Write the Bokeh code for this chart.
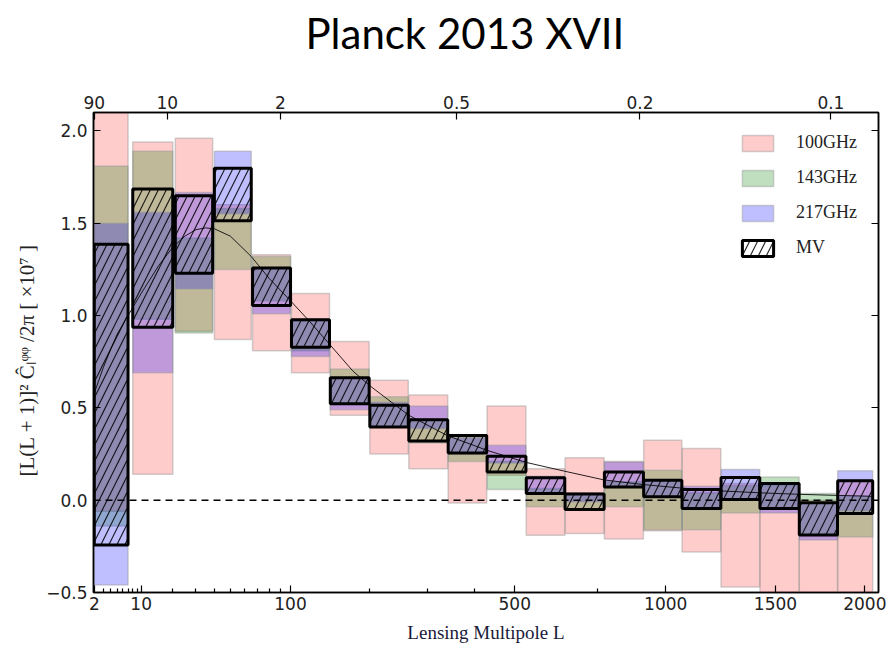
import numpy as np
from bokeh.plotting import figure
from bokeh.models import (LinearAxis, FixedTicker, CustomJSTickFormatter, Span,
                          Legend, LegendItem, Range1d)
from bokeh.embed import file_html
from bokeh.resources import INLINE

# Lensing multipole bins (inclusive bounds)
L_min = [2, 8, 21, 40, 66, 101, 145, 200, 265, 342, 430, 531, 644, 772, 914,
         1067, 1237, 1422, 1625, 1839]
L_max = [7, 20, 39, 65, 100, 144, 199, 264, 341, 429, 530, 643, 771, 913, 1066,
         1236, 1421, 1624, 1838, 2048]

# Band-power error boxes, [L(L+1)]^2 C_L^{phiphi}/2pi in units of 1e-7
ghz100_lo = [-0.06, 0.14, 0.915, 0.87, 0.81, 0.69, 0.46, 0.25, 0.17, -0.015,
             0.135, -0.19, -0.18, -0.21, -0.165, -0.28, -0.47, -0.6, -0.6, -0.6]
ghz100_hi = [2.3, 1.94, 1.96, 1.60, 1.33, 1.12, 0.86, 0.65, 0.57, 0.355,
             0.51, 0.17, 0.23, 0.21, 0.325, 0.28, 0.09, 0.08, 0.0, 0.11]

ghz143_lo = [-0.14, 0.98, 0.905, 1.25, 1.08, 0.81, 0.52, 0.40, 0.31, 0.21,
             0.058, -0.036, -0.05, -0.036, -0.16, -0.16, -0.07, -0.045, -0.19, -0.20]
ghz143_hi = [1.81, 1.89, 1.42, 1.58, 1.32, 0.97, 0.71, 0.56, 0.44, 0.35,
             0.21, 0.063, 0.035, 0.10, 0.162, 0.04, 0.08, 0.126, 0.036, 0.02]

ghz217_lo = [-0.46, 0.69, 1.144, 1.55, 1.01, 0.778, 0.49, 0.40, 0.387, 0.25,
             0.20, 0.036, -0.01, 0.072, 0.02, -0.05, 0.0, -0.07, -0.216, -0.06]
ghz217_hi = [1.50, 1.56, 1.667, 1.89, 1.26, 0.98, 0.66, 0.53, 0.51, 0.34,
             0.297, 0.13, 0.04, 0.207, 0.108, 0.076, 0.166, 0.09, -0.01, 0.159]

mv_lo = [-0.243, 0.937, 1.229, 1.514, 1.054, 0.829, 0.523, 0.396, 0.321, 0.256,
         0.153, 0.036, -0.05, 0.072, 0.018, -0.045, 0.004, -0.045, -0.189, -0.072]
mv_hi = [1.387, 1.685, 1.649, 1.798, 1.258, 0.977, 0.663, 0.514, 0.436, 0.351,
         0.238, 0.121, 0.034, 0.153, 0.108, 0.058, 0.123, 0.09, -0.014, 0.105]

# Fiducial lensing potential spectrum
theory_L = [2, 3, 4, 5, 7, 10, 15, 20, 25, 30, 35, 40, 50, 65, 80, 100, 120,
            145, 175, 200, 235, 265, 340, 430, 530, 640, 770, 910, 1070, 1240,
            1420, 1620, 1840, 2048]
theory_C = [0.58, 0.72, 0.82, 0.90, 1.00, 1.12, 1.27, 1.37, 1.43, 1.465, 1.475,
            1.47, 1.43, 1.32, 1.20, 1.08, 0.97, 0.84, 0.70, 0.62, 0.53, 0.46,
            0.35, 0.27, 0.205, 0.158, 0.11, 0.085, 0.065, 0.05, 0.04, 0.032,
            0.026, 0.021]

# Axis ticks
bottom_ticks = [2, 10, 100, 500, 1000, 1500, 2000]
bottom_labels = ["2", "10", "100", "500", "1000", "1500", "2000"]
bottom_minor = [3, 4, 5, 6, 7, 8, 9, 20, 30, 40, 50, 60, 70, 80, 90, 200, 300, 400, 750]
top_ticks = [2, 18, 90, 360, 900, 1800]          # L = 180 deg / theta
top_labels = ["90", "10", "2", "0.5", "0.2", "0.1"]
y_ticks = [-0.5, 0.0, 0.5, 1.0, 1.5, 2.0]

# The multipole axis is stretched as L^0.4
POWER = 0.4


def lx(L):
    return (np.asarray(L, dtype=float) ** POWER).tolist()


# The trailing line break leaves a gap between the title and the top axis
p = figure(width=894, height=662, output_backend="svg", toolbar_location=None,
           x_range=Range1d(2 ** POWER - 0.02, 2084 ** POWER),
           y_range=Range1d(-0.5, 2.1),
           x_axis_type=None, y_axis_type=None,
           min_border_left=93, min_border_right=16,
           min_border_top=112, min_border_bottom=70,
           title="Planck 2013 XVII\n")
p.grid.visible = False
p.background_fill_color = "white"
p.border_fill_color = "white"
p.outline_line_color = "black"
p.outline_line_width = 1.5

p.title.align = "left"
p.title.offset = 212
p.title.text_font = "Lato"
p.title.text_font_size = "42px"
p.title.text_font_style = "normal"
p.title.text_color = "black"
p.title.text_line_height = 0.7
p.title.standoff = 0

tick_font = "DejaVu Sans"
tick_size = "17px"


def style_axis(ax):
    ax.axis_line_color = "black"
    ax.axis_line_width = 1.5
    ax.major_tick_in = 7
    ax.major_tick_out = 0
    ax.minor_tick_in = 4
    ax.minor_tick_out = 0
    ax.major_tick_line_width = 1.2
    ax.minor_tick_line_width = 1.2
    ax.major_label_text_font = tick_font
    ax.major_label_text_font_size = tick_size
    ax.major_label_text_color = "#222222"


# Bottom multipole axis
bottom = LinearAxis(ticker=FixedTicker(ticks=lx(bottom_ticks), minor_ticks=lx(bottom_minor)),
                    formatter=CustomJSTickFormatter(args=dict(labs=bottom_labels),
                                                    code="return labs[index];"))
style_axis(bottom)
bottom.major_label_standoff = 4
bottom.axis_label = "Lensing Multipole L"
bottom.axis_label_text_font = "Liberation Serif"
bottom.axis_label_text_font_size = "19px"
bottom.axis_label_text_font_style = "normal"
bottom.axis_label_text_color = "#1a1a3a"
bottom.axis_label_standoff = 9
p.add_layout(bottom, "below")

# Top angular-scale axis (degrees)
top = LinearAxis(ticker=FixedTicker(ticks=lx(top_ticks), minor_ticks=[]),
                 formatter=CustomJSTickFormatter(args=dict(labs=top_labels),
                                                 code="return labs[index];"))
style_axis(top)
top.major_label_standoff = 4
p.add_layout(top, "above")

# Left and right amplitude axes
left = LinearAxis(ticker=FixedTicker(ticks=y_ticks, minor_ticks=[]),
                  formatter=CustomJSTickFormatter(
                      code="return tick.toFixed(1).replace('-', '\u2212');"))
style_axis(left)
left.major_label_standoff = 6
left.axis_label = "[L(L + 1)]\u00b2  \u0108\u2097\u1d60\u1d60  /2\u03c0  [ \u00d710\u2077 ]"
left.axis_label_text_font = "Liberation Serif"
left.axis_label_text_font_size = "21px"
left.axis_label_text_font_style = "normal"
left.axis_label_text_color = "#222222"
left.axis_label_standoff = 4
p.add_layout(left, "left")

right = LinearAxis(ticker=FixedTicker(ticks=y_ticks, minor_ticks=[]),
                   formatter=CustomJSTickFormatter(code="return '';"))
style_axis(right)
p.add_layout(right, "right")

xl = lx(L_min)
xr = lx(L_max)

edge = dict(line_color="#9a9a9a", line_alpha=0.45, line_width=1.5)
r100 = p.quad(left=xl, right=xr, bottom=ghz100_lo, top=ghz100_hi,
              fill_color="red", fill_alpha=0.2, **edge)
r143 = p.quad(left=xl, right=xr, bottom=ghz143_lo, top=ghz143_hi,
              fill_color="green", fill_alpha=0.25, **edge)
r217 = p.quad(left=xl, right=xr, bottom=ghz217_lo, top=ghz217_hi,
              fill_color="blue", fill_alpha=0.25, **edge)

p.line(lx(theory_L), theory_C, line_color="black", line_width=1, line_alpha=0.85)

p.add_layout(Span(location=0, dimension="width", line_color="black",
                  line_dash="7 5", line_width=1.5))

rmv = p.quad(left=xl, right=xr, bottom=mv_lo, top=mv_hi,
             fill_color=None, line_color="black", line_width=3,
             hatch_pattern="/", hatch_color="black", hatch_alpha=0.85,
             hatch_scale=16, hatch_weight=1.2)

# Legend anchored by its bottom-left corner, in pixels from the frame's bottom-left
legend = Legend(items=[LegendItem(label="100GHz", renderers=[r100]),
                       LegendItem(label="143GHz", renderers=[r143]),
                       LegendItem(label="217GHz", renderers=[r217]),
                       LegendItem(label="MV", renderers=[rmv])],
                location=(645, 334), border_line_color=None,
                background_fill_alpha=0.0,
                label_text_font="Liberation Serif", label_text_font_size="18px",
                label_text_color="#222222",
                glyph_width=39, glyph_height=20, spacing=14, label_standoff=19,
                padding=10, margin=0)
p.add_layout(legend)

open("out.html", "w").write(file_html(p, INLINE))
